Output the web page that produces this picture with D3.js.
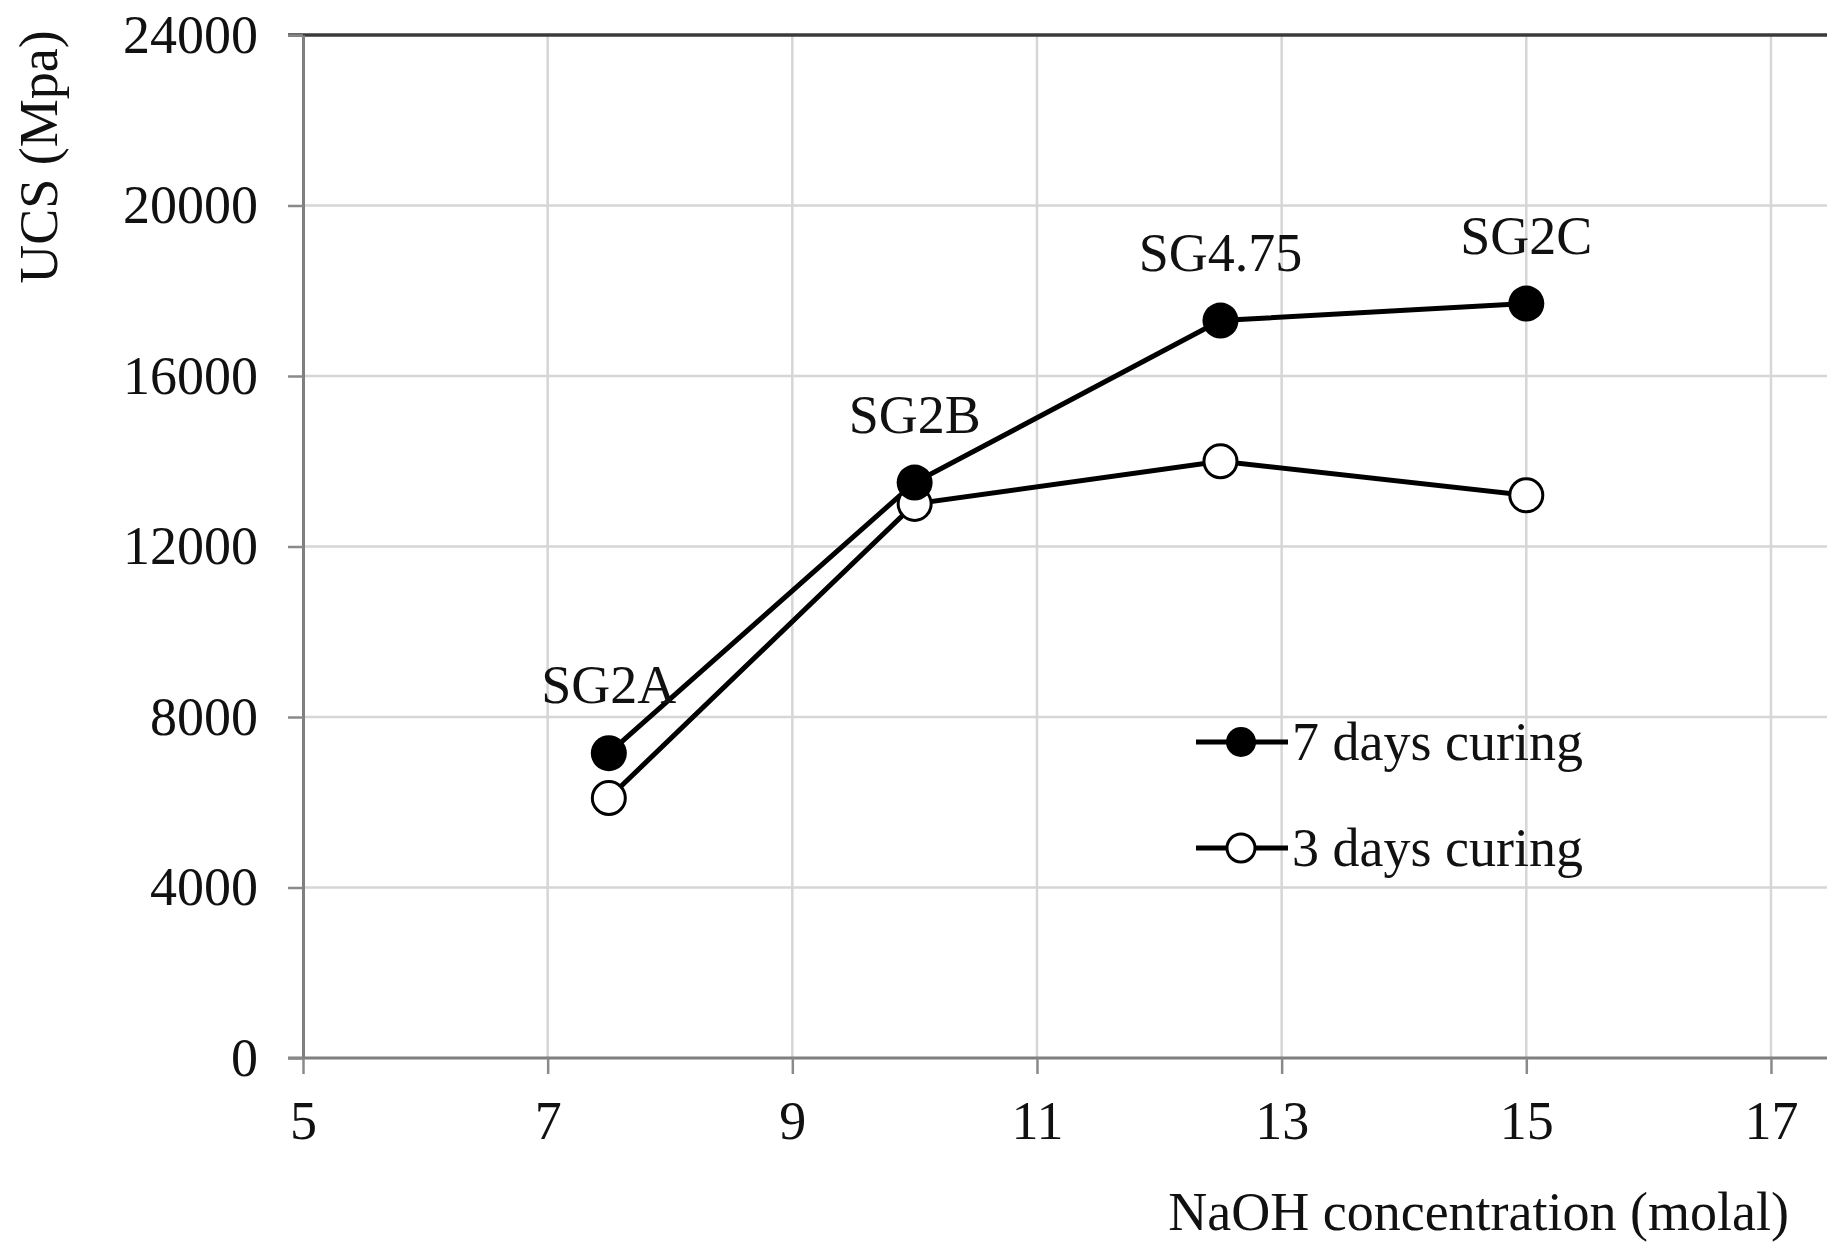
<!DOCTYPE html>
<html>
<head>
<meta charset="utf-8">
<script src="https://cdn.jsdelivr.net/npm/d3@7"></script>
<style>
  html, body { margin: 0; padding: 0; background: #fff; }
  svg { display: block; }
  text { font-family: "Liberation Serif", "Times New Roman", serif; fill: #111; }
</style>
</head>
<body>
<svg id="chart" width="1827" height="1249"></svg>
<script>
// NaOH concentration (molal) for each mix
const concentrations = [7.5, 10, 12.5, 15];
const mixNames = ["SG2A", "SG2B", "SG4.75", "SG2C"];
// UCS values for each curing period
const ucs7Days = [7150, 13500, 17300, 17700];
const ucs3Days = [6100, 13000, 14000, 13200];
const seriesNames = ["7 days curing", "3 days curing"];
const xTicks = [5, 7, 9, 11, 13, 15, 17];
const yTicks = [0, 4000, 8000, 12000, 16000, 20000, 24000];

(function draw() {
  const svg = d3.select("#chart");
  const W = 1827;
  const plotLeft = 303, plotTop = 35, plotBottom = 1058;
  const unit = 122.33;

  const x = d3.scaleLinear().domain([5, 19]).range([plotLeft, plotLeft + 14 * unit]);
  const y = d3.scaleLinear().domain([0, 24000]).range([plotBottom, plotTop]);

  // gridlines
  const grid = svg.append("g");
  grid.selectAll("line.v").data(xTicks.filter(d => d > 5)).join("line")
    .attr("x1", d => x(d)).attr("x2", d => x(d))
    .attr("y1", plotTop).attr("y2", plotBottom)
    .attr("stroke", "#d6d6d6").attr("stroke-width", 2.5);
  grid.selectAll("line.h").data(yTicks.filter(d => d > 0 && d < 24000)).join("line")
    .attr("x1", plotLeft).attr("x2", W)
    .attr("y1", d => y(d)).attr("y2", d => y(d))
    .attr("stroke", "#d6d6d6").attr("stroke-width", 2.5);

  // top border line
  svg.append("line")
    .attr("x1", plotLeft - 15).attr("x2", W)
    .attr("y1", y(24000)).attr("y2", y(24000))
    .attr("stroke", "#3a3a3a").attr("stroke-width", 3.5);

  // axes
  const xAxis = d3.axisBottom(x).tickValues(xTicks).tickSize(16).tickSizeOuter(0).tickPadding(27);
  const gx = svg.append("g").attr("transform", `translate(0,${plotBottom})`).call(xAxis);
  gx.select(".domain").attr("stroke", "#7f7f7f").attr("stroke-width", 3).attr("d", `M${plotLeft - 15},0H${W}`);
  gx.selectAll(".tick line").attr("stroke", "#8a8a8a").attr("stroke-width", 2.5);
  gx.selectAll(".tick text").attr("font-size", 54).attr("fill", "#111")
    .attr("font-family", "Liberation Serif");

  const yAxis = d3.axisLeft(y).tickValues(yTicks).tickFormat(d3.format("d"))
    .tickSize(15).tickSizeOuter(0).tickPadding(30);
  const gy = svg.append("g").attr("transform", `translate(${plotLeft},0)`).call(yAxis);
  gy.select(".domain").attr("stroke", "#7f7f7f").attr("stroke-width", 3);
  gy.selectAll(".tick line").attr("stroke", "#8a8a8a").attr("stroke-width", 2.5);
  gy.selectAll(".tick text").attr("font-size", 54).attr("fill", "#111")
    .attr("font-family", "Liberation Serif");

  // axis titles
  svg.append("text")
    .attr("x", 1789).attr("y", 1230)
    .attr("text-anchor", "end").attr("font-size", 54)
    .text("NaOH concentration (molal)");
  svg.append("text")
    .attr("transform", "translate(57,157) rotate(-90)")
    .attr("text-anchor", "middle").attr("font-size", 54)
    .text("UCS (Mpa)");

  // series
  const line = d3.line().x(d => x(d[0])).y(d => y(d[1]));
  const s7 = concentrations.map((c, i) => [c, ucs7Days[i]]);
  const s3 = concentrations.map((c, i) => [c, ucs3Days[i]]);

  svg.append("path").datum(s7).attr("d", line)
    .attr("fill", "none").attr("stroke", "#000").attr("stroke-width", 5);
  svg.append("path").datum(s3).attr("d", line)
    .attr("fill", "none").attr("stroke", "#000").attr("stroke-width", 5);

  svg.selectAll("circle.s3").data(s3).join("circle").attr("class", "s3")
    .attr("cx", d => x(d[0])).attr("cy", d => y(d[1])).attr("r", 16.5)
    .attr("fill", "#fff").attr("stroke", "#000").attr("stroke-width", 3);
  svg.selectAll("circle.s7").data(s7).join("circle").attr("class", "s7")
    .attr("cx", d => x(d[0])).attr("cy", d => y(d[1])).attr("r", 18)
    .attr("fill", "#000");

  // mix labels above the 7-day points
  svg.selectAll("text.mix").data(s7).join("text").attr("class", "mix")
    .attr("x", d => x(d[0])).attr("y", d => y(d[1]) - 50)
    .attr("text-anchor", "middle").attr("font-size", 54)
    .text((d, i) => mixNames[i]);

  // legend
  const legend = svg.append("g");
  const legendRows = [742, 848];
  seriesNames.forEach((name, i) => {
    const ly = legendRows[i];
    legend.append("line").attr("x1", 1196).attr("x2", 1288)
      .attr("y1", ly).attr("y2", ly).attr("stroke", "#000").attr("stroke-width", 5);
    if (i === 0) {
      legend.append("circle").attr("cx", 1241).attr("cy", ly).attr("r", 15).attr("fill", "#000");
    } else {
      legend.append("circle").attr("cx", 1241).attr("cy", ly).attr("r", 14)
        .attr("fill", "#fff").attr("stroke", "#000").attr("stroke-width", 3);
    }
    legend.append("text").attr("x", 1292).attr("y", ly + 18)
      .attr("font-size", 54).text(name);
  });
})();
</script>
</body>
</html>
